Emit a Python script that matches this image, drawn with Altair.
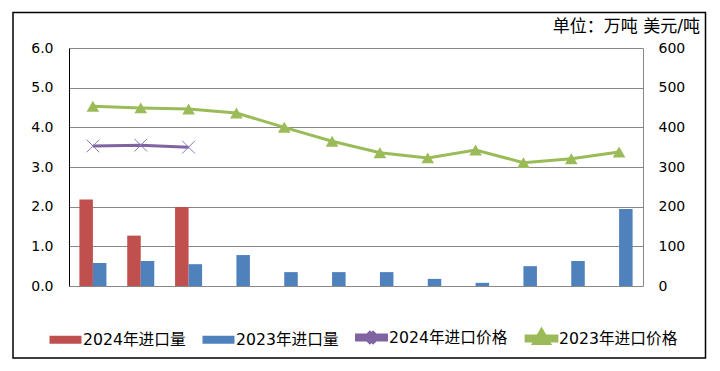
import altair as alt
import pandas as pd

months = ["1月", "2月", "3月", "4月", "5月", "6月", "7月", "8月", "9月", "10月", "11月", "12月"]
bar_series = ["2024年进口量", "2023年进口量"]
line_series = ["2024年进口价格", "2023年进口价格"]
imp_2024 = [2.18, 1.27, 1.99]
imp_2023 = [0.58, 0.63, 0.55, 0.78, 0.35, 0.35, 0.35, 0.18, 0.08, 0.50, 0.63, 1.94]
price_2024 = [353, 355, 350]
price_2023 = [453, 449, 446, 436, 400, 365, 336, 323, 343, 311, 321, 338]
left_ticks = [0, 1, 2, 3, 4, 5, 6]
right_ticks = [0, 100, 200, 300, 400, 500, 600]
unit_text = "单位：万吨 美元/吨"

RED, BLUE, PURPLE, GREEN = "#C0504D", "#4F81BD", "#8064A2", "#9BBB59"
GRID = "#888888"
FONT = "DejaVu Sans, Noto Sans CJK SC"

bar_df = pd.DataFrame(
    [{"month": m, "series": bar_series[0], "value": v} for m, v in zip(months, imp_2024)]
    + [{"month": m, "series": bar_series[1], "value": v} for m, v in zip(months, imp_2023)]
)
p24 = pd.DataFrame({"month": months[:3], "series": line_series[0], "price": price_2024})
p23 = pd.DataFrame({"month": months, "series": line_series[1], "price": price_2023})

x_axis = alt.Axis(title=None, labelAngle=0, ticks=False, domainColor=GRID, domainWidth=1,
                  labelFont=FONT, labelFontSize=14, labelColor="black", labelPadding=6, grid=False)
x_enc = alt.X("month:N", sort=months, scale=alt.Scale(paddingInner=0, paddingOuter=0), axis=x_axis)
x_enc_noaxis = alt.X("month:N", sort=months, scale=alt.Scale(paddingInner=0, paddingOuter=0), axis=None)

bars = alt.Chart(bar_df).mark_bar().encode(
    x=x_enc,
    xOffset=alt.XOffset("series:N", scale=alt.Scale(domain=bar_series, paddingInner=0, paddingOuter=0.77)),
    y=alt.Y("value:Q", scale=alt.Scale(domain=[0, 6]),
            axis=alt.Axis(title=None, values=left_ticks, format=".1f", ticks=False, domainColor="black",
                          domainWidth=1, gridColor=GRID, gridWidth=1, labelFont=FONT, labelFontSize=14,
                          labelColor="black", labelPadding=16)),
    color=alt.Color("series:N", scale=alt.Scale(domain=bar_series, range=[RED, BLUE]), legend=None),
)

y_right = alt.Y("price:Q", scale=alt.Scale(domain=[0, 600]),
                axis=alt.Axis(title=None, orient="right", values=right_ticks, format="d", ticks=False,
                              grid=False, domainColor=GRID, domainWidth=1, labelFont=FONT, labelFontSize=14,
                              labelColor="black", labelPadding=15))

line23 = alt.Chart(p23).mark_line(color=GREEN, strokeWidth=3).encode(x=x_enc_noaxis, y=y_right)
pts23 = alt.Chart(p23).mark_point(shape="triangle-up", filled=True, color=GREEN, size=160, opacity=1).encode(
    x=x_enc_noaxis, y=y_right)
line24 = alt.Chart(p24).mark_line(color=PURPLE, strokeWidth=3).encode(x=x_enc_noaxis, y=y_right)
pts24 = alt.Chart(p24).mark_point(shape="M-1,-1L1,1M-1,1L1,-1", filled=False, color="#8878B8",
                                  strokeWidth=1, size=160, opacity=1).encode(x=x_enc_noaxis, y=y_right)

all_series = bar_series + line_series
leg_df = pd.DataFrame({"s": all_series})
leg = alt.Legend(orient="none", legendX=-21, legendY=272, direction="horizontal", title=None,
                 symbolSize=729, labelFont=FONT, labelFontSize=15.7, labelColor="black",
                 labelOffset=0, columnPadding=0, symbolOpacity=1, padding=0)
shape_paths = [
    "M-1.185,0H1.185",
    "M-1.185,0H1.185",
    "M-1.22,0H1.22M-0.33,-0.33L0.33,0.33M-0.33,0.33L0.33,-0.33",
    "M-1.25,0H1.25M0,-0.3L0.27,0.17H-0.27Z",
]
legend_layer = alt.Chart(leg_df).transform_filter("false").mark_point(filled=False).encode(
    shape=alt.Shape("s:N", scale=alt.Scale(domain=all_series, range=shape_paths), legend=leg),
    stroke=alt.Stroke("s:N", scale=alt.Scale(domain=all_series, range=[RED, BLUE, PURPLE, GREEN]), legend=leg),
    strokeWidth=alt.StrokeWidth("s:N", scale=alt.Scale(domain=all_series, range=[8, 8, 3, 3]), legend=leg),
)

unit = alt.Chart(pd.DataFrame({"t": [unit_text]})).mark_text(
    align="right", baseline="middle", font=FONT, fontSize=17, color="black"
).encode(text="t:N", x=alt.value(631), y=alt.value(-21))

frame_df = pd.DataFrame({"k": [0]})
frame = alt.Chart(frame_df).mark_rect(fill="white", fillOpacity=0, stroke="black", strokeWidth=1.5).encode(
    x=alt.value(-56), x2=alt.value(636.5), y=alt.value(-35.5), y2=alt.value(310))

right_layer = alt.layer(line23, pts23, line24, pts24, legend_layer)

chart = alt.layer(frame, bars, right_layer, unit).resolve_scale(y="independent").properties(
    width=574, height=238,
    autosize=alt.AutoSizeParams(type="none"),
    padding={"left": 61, "top": 40, "right": 66, "bottom": 74},
    background="white",
).configure_view(stroke=None)

chart.save("out.html", embed_options={"renderer": "svg", "actions": False})
